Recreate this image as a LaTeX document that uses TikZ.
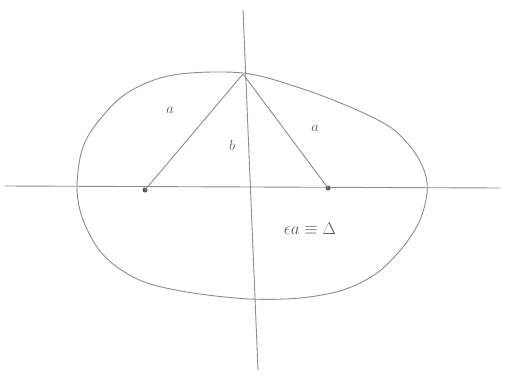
\documentclass[tikz,border=0pt]{standalone}
\begin{document}
\begin{tikzpicture}[x=1pt,y=-1pt,
  pen/.style={draw=black!45,line width=0.9pt,line cap=round,line join=round},
  lab/.style={text=black!65,font=\Large},
  focus/.style={circle,fill=black!65,inner sep=0pt,minimum size=5pt}]
\useasboundingbox (0,0) rectangle (506,375);
% axes
\coordinate (xl) at (5,186);
\coordinate (xr) at (500,188);
\coordinate (yt) at (243,10);
\coordinate (yb) at (258,370);
\draw[pen] (xl) -- (xr);
\draw[pen] (yt) -- (yb);
% ellipse (hand-drawn egg)
\draw[pen] plot[smooth cycle,tension=0.55] coordinates {
 (77,187) (82,150) (97,123) (127,93) (173,75) (243,73) (300,88) (350,107)
 (390,127) (413,150) (425,173) (427,193) (420,220) (403,247) (377,273)
 (343,290) (300,298) (250,299) (193,293) (147,283) (117,267) (97,247) (82,217)};
% foci and vertex
\node[focus] (f1) at (145,190) {};
\node[focus] (f2) at (328,188) {};
\coordinate (v) at (243,74);
\draw[pen] (f1.center) -- (v) -- (f2.center);
% labels
\node[lab] (a1) at (170,110) {$a$};
\node[lab] (b) at (232,145) {$b$};
\node[lab] (a2) at (315,128) {$a$};
\node[lab,font=\LARGE] (e) at (310,229) {$\epsilon a \equiv \Delta$};
\end{tikzpicture}
\end{document}
